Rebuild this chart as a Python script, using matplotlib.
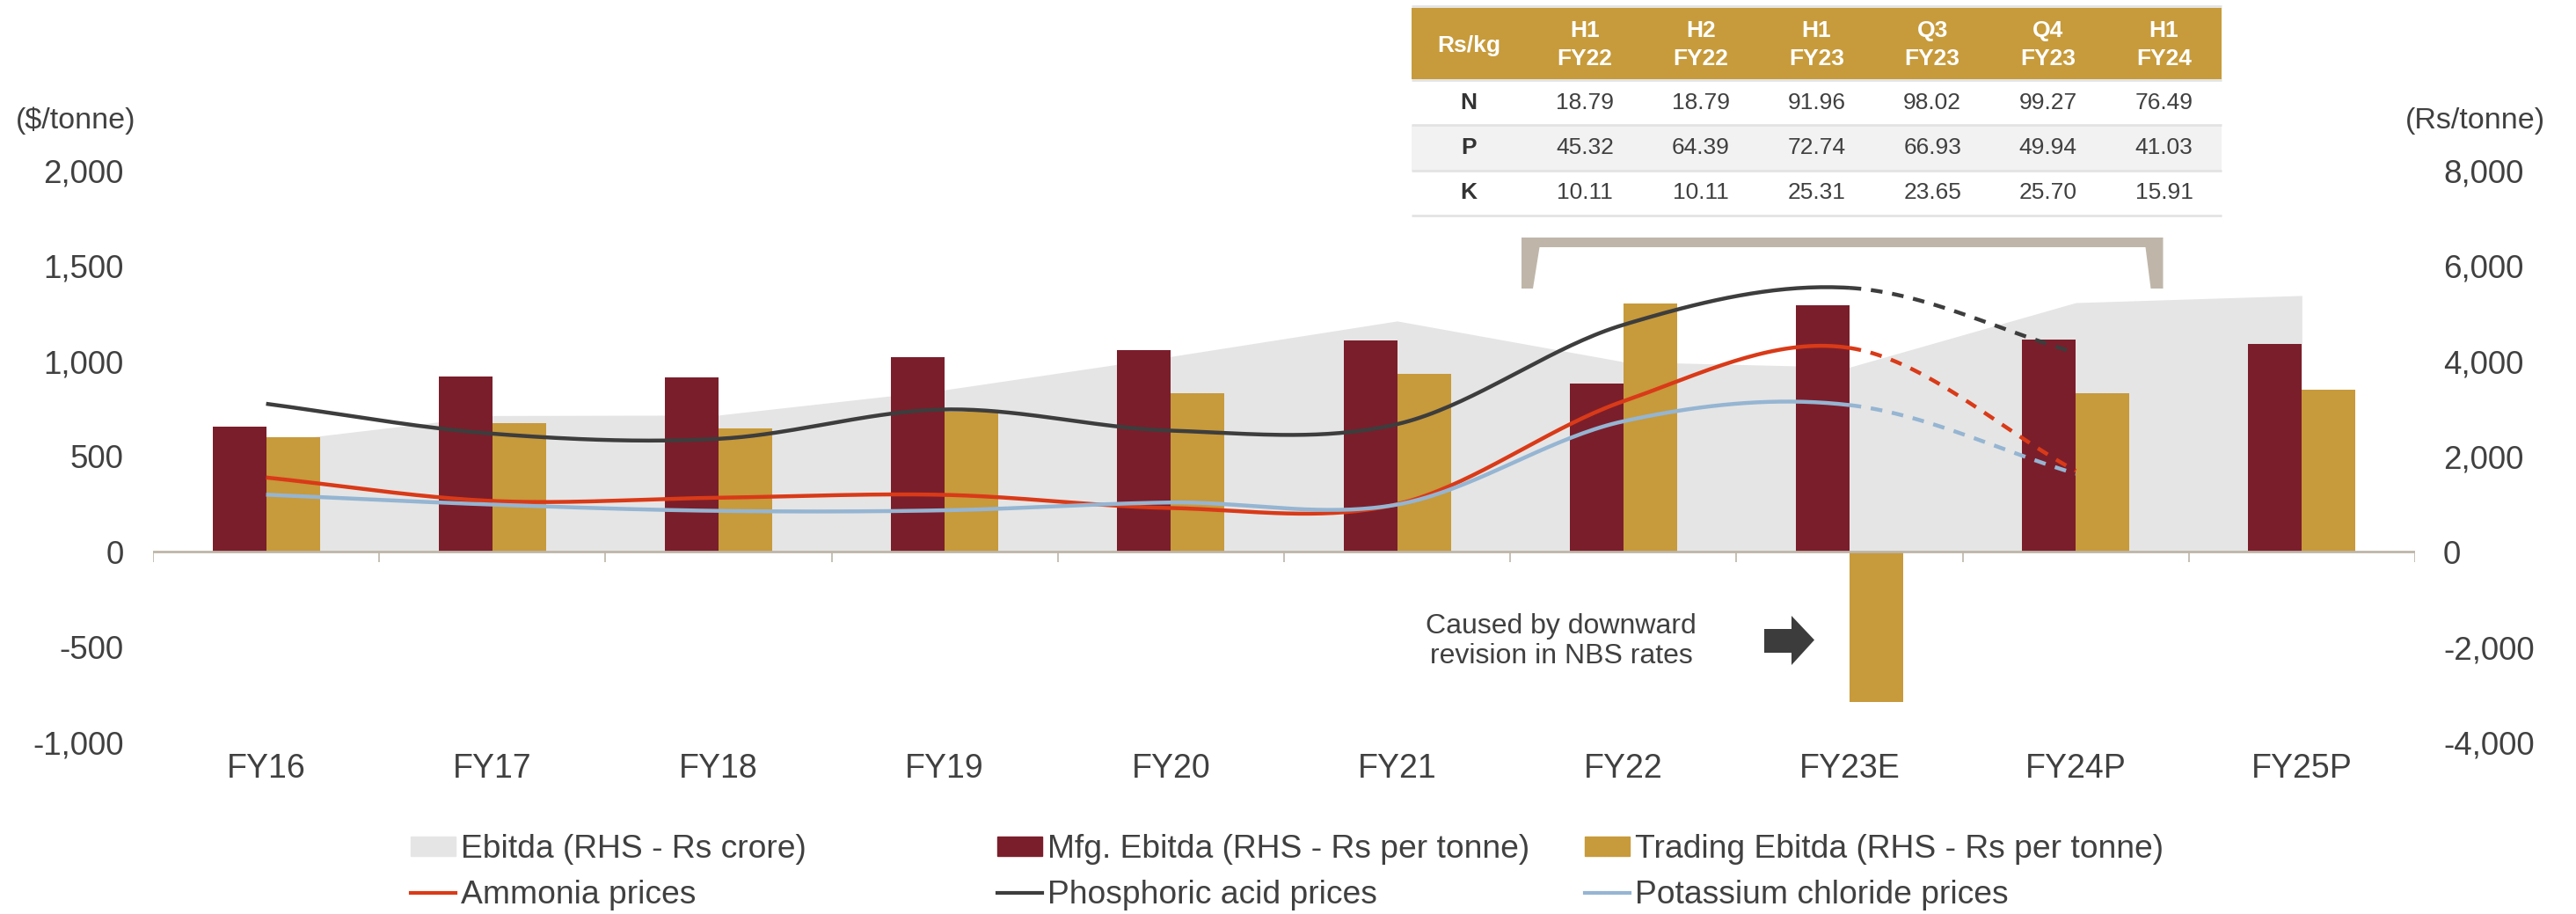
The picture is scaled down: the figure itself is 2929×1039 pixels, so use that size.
import numpy as np
import matplotlib.pyplot as plt
from matplotlib.patches import Rectangle, Polygon
from matplotlib.lines import Line2D
from matplotlib.ticker import FuncFormatter

plt.rcParams['font.family'] = ['Liberation Sans', 'DejaVu Sans']

# ---- data ----
years = ['FY16', 'FY17', 'FY18', 'FY19', 'FY20', 'FY21', 'FY22', 'FY23E', 'FY24P', 'FY25P']
ebitda_crore = [2300, 2860, 2870, 3400, 4100, 4845, 3990, 3875, 5230, 5380]
mfg_ebitda = [2630, 3675, 3655, 4080, 4225, 4440, 3530, 5175, 4460, 4370]
trading_ebitda = [2410, 2705, 2585, 2950, 3320, 3730, 5205, -3150, 3335, 3405]

# $/tonne, FY16..FY24P (last step is the estimate, drawn dashed)
ammonia = [390, 267, 284, 299, 230, 250, 790, 1070, 425]
phos_acid = [777, 620, 593, 747, 636, 670, 1191, 1385, 1045]
potash = [300, 248, 215, 218, 259, 248, 685, 770, 410]

table_periods = ['H1', 'H2', 'H1', 'Q3', 'Q4', 'H1']
table_years = ['FY22', 'FY22', 'FY23', 'FY23', 'FY23', 'FY24']
table_rows = ['N', 'P', 'K']
nbs_n = [18.79, 18.79, 91.96, 98.02, 99.27, 76.49]
nbs_p = [45.32, 64.39, 72.74, 66.93, 49.94, 41.03]
nbs_k = [10.11, 10.11, 25.31, 23.65, 25.70, 15.91]

MAROON = '#7B1E2B'
GOLD = '#C79A3B'
GREY = '#E5E5E5'
RED = '#D93A18'
BLACK = '#3D3D3D'
BLUE = '#95B5D2'
AXIS = '#BEB5A8'
TXT = '#404040'


def smooth_segments(vals, steps=40):
    """Cubic Hermite (Catmull-Rom) pieces through the points, one per gap."""
    v = np.asarray(vals, float)
    m = np.gradient(v)
    t = np.linspace(0, 1, steps)
    h00 = 2 * t**3 - 3 * t**2 + 1
    h10 = t**3 - 2 * t**2 + t
    h01 = -2 * t**3 + 3 * t**2
    h11 = t**3 - t**2
    segs = []
    for i in range(len(v) - 1):
        segs.append((i + t, h00 * v[i] + h10 * m[i] + h01 * v[i + 1] + h11 * m[i + 1]))
    return segs


fig = plt.figure(figsize=(29.29, 10.39), dpi=100)
ax = fig.add_axes([0.0594, 0.1877, 0.8781, 0.6256])   # $/tonne
ax2 = ax.twinx()                                        # Rs/tonne
ax.set_zorder(ax2.get_zorder() + 1)
ax.patch.set_visible(False)

x = np.arange(len(years))
w = 0.237
ax2.fill_between(x, ebitda_crore, 0, color=GREY, lw=0, zorder=1)
ax2.bar(x - w / 2, mfg_ebitda, w, color=MAROON, zorder=2)
ax2.bar(x + w / 2, trading_ebitda, w, color=GOLD, zorder=2)
ax2.axhline(0, color=AXIS, lw=2, zorder=3)
ax2.vlines(np.arange(len(years) + 1) - 0.5, -215, 0, color=AXIS, lw=1.2, zorder=3)

for vals, col in [(ammonia, RED), (phos_acid, BLACK), (potash, BLUE)]:
    segs = smooth_segments(vals)
    sx = np.concatenate([s[0] for s in segs[:-1]])
    sy = np.concatenate([s[1] for s in segs[:-1]])
    ax.plot(sx, sy, color=col, lw=3.2, solid_capstyle='butt')
    ax.plot(segs[-1][0], segs[-1][1], color=col, lw=3.2, ls=(0, (3, 2.5)))

ax.set_xlim(-0.5, len(years) - 0.5)
ax.set_ylim(-1000, 2000)
ax2.set_ylim(-4000, 8000)
ax.set_yticks(np.arange(-1000, 2001, 500))
ax2.set_yticks(np.arange(-4000, 8001, 2000))
fmt = FuncFormatter(lambda v, p: f'{v:,.0f}')
ax.yaxis.set_major_formatter(fmt)
ax2.yaxis.set_major_formatter(fmt)
ax.set_xticks(x)
ax.set_xticklabels(years)
ax.tick_params(axis='y', length=0, pad=24, labelsize=26.5, labelcolor=TXT)
ax2.tick_params(axis='y', length=0, pad=23, labelsize=26.5, labelcolor=TXT)
ax.tick_params(axis='x', length=0, pad=9, labelsize=27, labelcolor=TXT)
for a in (ax, ax2):
    for s in a.spines.values():
        s.set_visible(False)

fig.text(0.0295, 0.868, '($/tonne)', ha='center', va='center', fontsize=24.5, color=TXT)
fig.text(0.961, 0.868, '(Rs/tonne)', ha='center', va='center', fontsize=24.5, color=TXT)

# legend: three columns, two rows
columns = [
    ([Rectangle((0, 0), 1, 1, color=GREY), Line2D([], [], color=RED, lw=3)],
     ['Ebitda (RHS - Rs crore)', 'Ammonia prices']),
    ([Rectangle((0, 0), 1, 1, color=MAROON), Line2D([], [], color=BLACK, lw=3)],
     ['Mfg. Ebitda (RHS - Rs per tonne)', 'Phosphoric acid prices']),
    ([Rectangle((0, 0), 1, 1, color=GOLD), Line2D([], [], color=BLUE, lw=3)],
     ['Trading Ebitda (RHS - Rs per tonne)', 'Potassium chloride prices']),
]
for xpos, (hs, labs) in zip([0.1594, 0.3872, 0.6152], columns):
    fig.legend(hs, labs, loc='center left', bbox_to_anchor=(xpos, 0.0455),
               frameon=False, fontsize=26.8, handlelength=1.38, handleheight=0.52,
               handletextpad=0.15, labelspacing=0.47, borderpad=0,
               borderaxespad=0, labelcolor=TXT)

# overlay in pixel units for the table, bracket and note
ov = fig.add_axes([0, 0, 1, 1], zorder=2)
ov.set_xlim(0, 2929)
ov.set_ylim(1039, 0)
ov.axis('off')

tl, tr = 1605, 2526
ov.add_patch(Rectangle((tl, 9), tr - tl, 81, color='#C79B3B', lw=0))
ov.add_patch(Rectangle((tl, 142), tr - tl, 51.5, color='#F2F2F2', lw=0))
ov.hlines([7, 91, 142, 193.5, 244.5], tl, tr, color='#E3E3E3', lw=2)
ov.text(1670, 52, 'Rs/kg', ha='center', va='center', fontsize=19,
        fontweight='bold', color='white')
col_x = 1802 + 131.7 * np.arange(len(table_periods))
for cx, per, yr in zip(col_x, table_periods, table_years):
    ov.text(cx, 35, per, ha='center', va='center', fontsize=19, fontweight='bold', color='white')
    ov.text(cx, 67, yr, ha='center', va='center', fontsize=19, fontweight='bold', color='white')
for ry, name, vals in zip([117, 168, 219], table_rows, [nbs_n, nbs_p, nbs_k]):
    ov.text(1670, ry, name, ha='center', va='center', fontsize=19, fontweight='bold', color='#333333')
    for cx, v in zip(col_x, vals):
        ov.text(cx, ry, f'{v:.2f}', ha='center', va='center', fontsize=19, color=TXT)

# bracket under the table
ov.add_patch(Polygon([(1730, 270), (2459.5, 270), (2459.5, 328), (2445.5, 328),
                      (2439.5, 281), (1750.5, 281), (1743, 328), (1730, 328)],
                     closed=True, color='#BFB6A9', lw=0))

# note on the FY23E trading loss
ov.text(1775, 729, 'Caused by downward\nrevision in NBS rates', ha='center', va='center',
        fontsize=23, color=TXT, linespacing=1.2)
ov.add_patch(Polygon([(2006, 715), (2037, 715), (2037, 700), (2063, 727.5),
                      (2037, 756), (2037, 742), (2006, 742)], closed=True,
                     color='#3C3C3C', lw=0))

fig.savefig('out.png', dpi=100)
